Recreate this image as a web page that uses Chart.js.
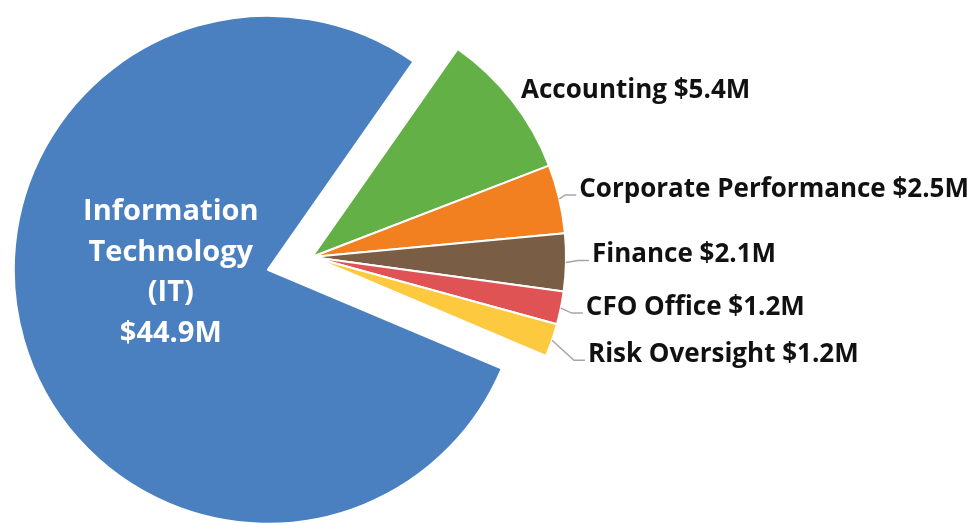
<!DOCTYPE html>
<html>
<head>
<meta charset="utf-8">
<title>Spend by department</title>
<script src="https://cdn.jsdelivr.net/npm/chart.js@4.4.1/dist/chart.umd.min.js"></script>
<style>
	html, body { margin: 0; padding: 0; background: #fff; }
	#wrap { width: 969px; height: 523px; }
</style>
</head>
<body>
<div id="wrap"><canvas id="chart0"></canvas></div>
<script>
// spend per department, in $M
const departments = ["Information Technology (IT)", "Accounting", "Corporate Performance", "Finance", "CFO Office", "Risk Oversight"];
const spend = [44.9, 5.4, 2.5, 2.1, 1.2, 1.2];
const spendLabels = ["$44.9M", "$5.4M", "$2.5M", "$2.1M", "$1.2M", "$1.2M"];

const sliceColors = ["#4a7fc0", "#63b146", "#f28021", "#795d45", "#e05355", "#fdc93e"];

// how far the IT slice is pulled away from the rest
const pullOut = 46;
// label anchor nudges: IT is relative to its slice centre, the rest to the outer edge of their slice
const labelNudge = [[-97, 3], [6, -4], [17, -4], [23, -2], [22, 5], [33, 20]];

const explodeFirst = {
	id: "explodeFirst",
	afterDatasetsUpdate(chart) {
		var arc = chart.getDatasetMeta(0).data[0];
		var mid = (arc.startAngle + arc.endAngle) / 2;
		arc.x += Math.cos(mid) * pullOut;
		arc.y += Math.sin(mid) * pullOut;
	}
};

const sliceLabels = {
	id: "sliceLabels",
	afterDatasetsDraw(chart) {
		var ctx = chart.ctx;
		var arcs = chart.getDatasetMeta(0).data;
		ctx.save();
		arcs.forEach(function(arc, i) {
			var mid = (arc.startAngle + arc.endAngle) / 2;
			var nudge = labelNudge[i];
			if (i === 0) {
				var lines = departments[0].split(" ").concat(spendLabels[0]);
				var cx = arc.x + nudge[0];
				var cy = arc.y + nudge[1];
				var lh = 40.6;
				ctx.fillStyle = "#ffffff";
				ctx.font = "bold 29px 'Open Sans'";
				ctx.textAlign = "center";
				ctx.textBaseline = "middle";
				lines.forEach(function(t, k) {
					ctx.fillText(t, cx, cy + (k - (lines.length - 1) / 2) * lh);
				});
				return;
			}
			var px = arc.x + Math.cos(mid) * arc.outerRadius;
			var py = arc.y + Math.sin(mid) * arc.outerRadius;
			var ax = px + nudge[0];
			var ay = py + nudge[1];
			if (Math.hypot(nudge[0], nudge[1]) > 12) {
				ctx.strokeStyle = "#a6a6a6";
				ctx.lineWidth = 1.5;
				ctx.beginPath();
				ctx.moveTo(px, py);
				ctx.lineTo(ax - 11, ay);
				ctx.lineTo(ax, ay);
				ctx.stroke();
			}
			ctx.fillStyle = "#111111";
			ctx.font = "bold 26px 'Open Sans'";
			ctx.textAlign = "left";
			ctx.textBaseline = "alphabetic";
			ctx.fillText(departments[i] + " " + spendLabels[i], ax + 3, ay + 2);
		});
		ctx.restore();
	}
};

function plotChart() {
	var total = spend.reduce((a, b) => a + b, 0);
	var itAngle = spend[0] / total * 360;

	var chart0 = new Chart("chart0", {
		type: "pie",
		data: {
			labels: departments,
			datasets: [
				{
					data: spend,
					backgroundColor: sliceColors,
					borderColor: "#ffffff",
					borderWidth: 2,
					radius: 254
				}
			]
		},
		options: {
			responsive: true,
			maintainAspectRatio: false,
			animation: false,
			events: [],
			// small slices start at about 35 degrees past twelve o'clock
			rotation: 35 - itAngle,
			layout: { padding: { left: 0, right: 345, top: 0, bottom: 9 } },
			plugins: {
				legend: { display: false },
				tooltip: { enabled: false }
			}
		},
		plugins: [explodeFirst, sliceLabels]
	});
}

plotChart();
</script>
</body>
</html>
